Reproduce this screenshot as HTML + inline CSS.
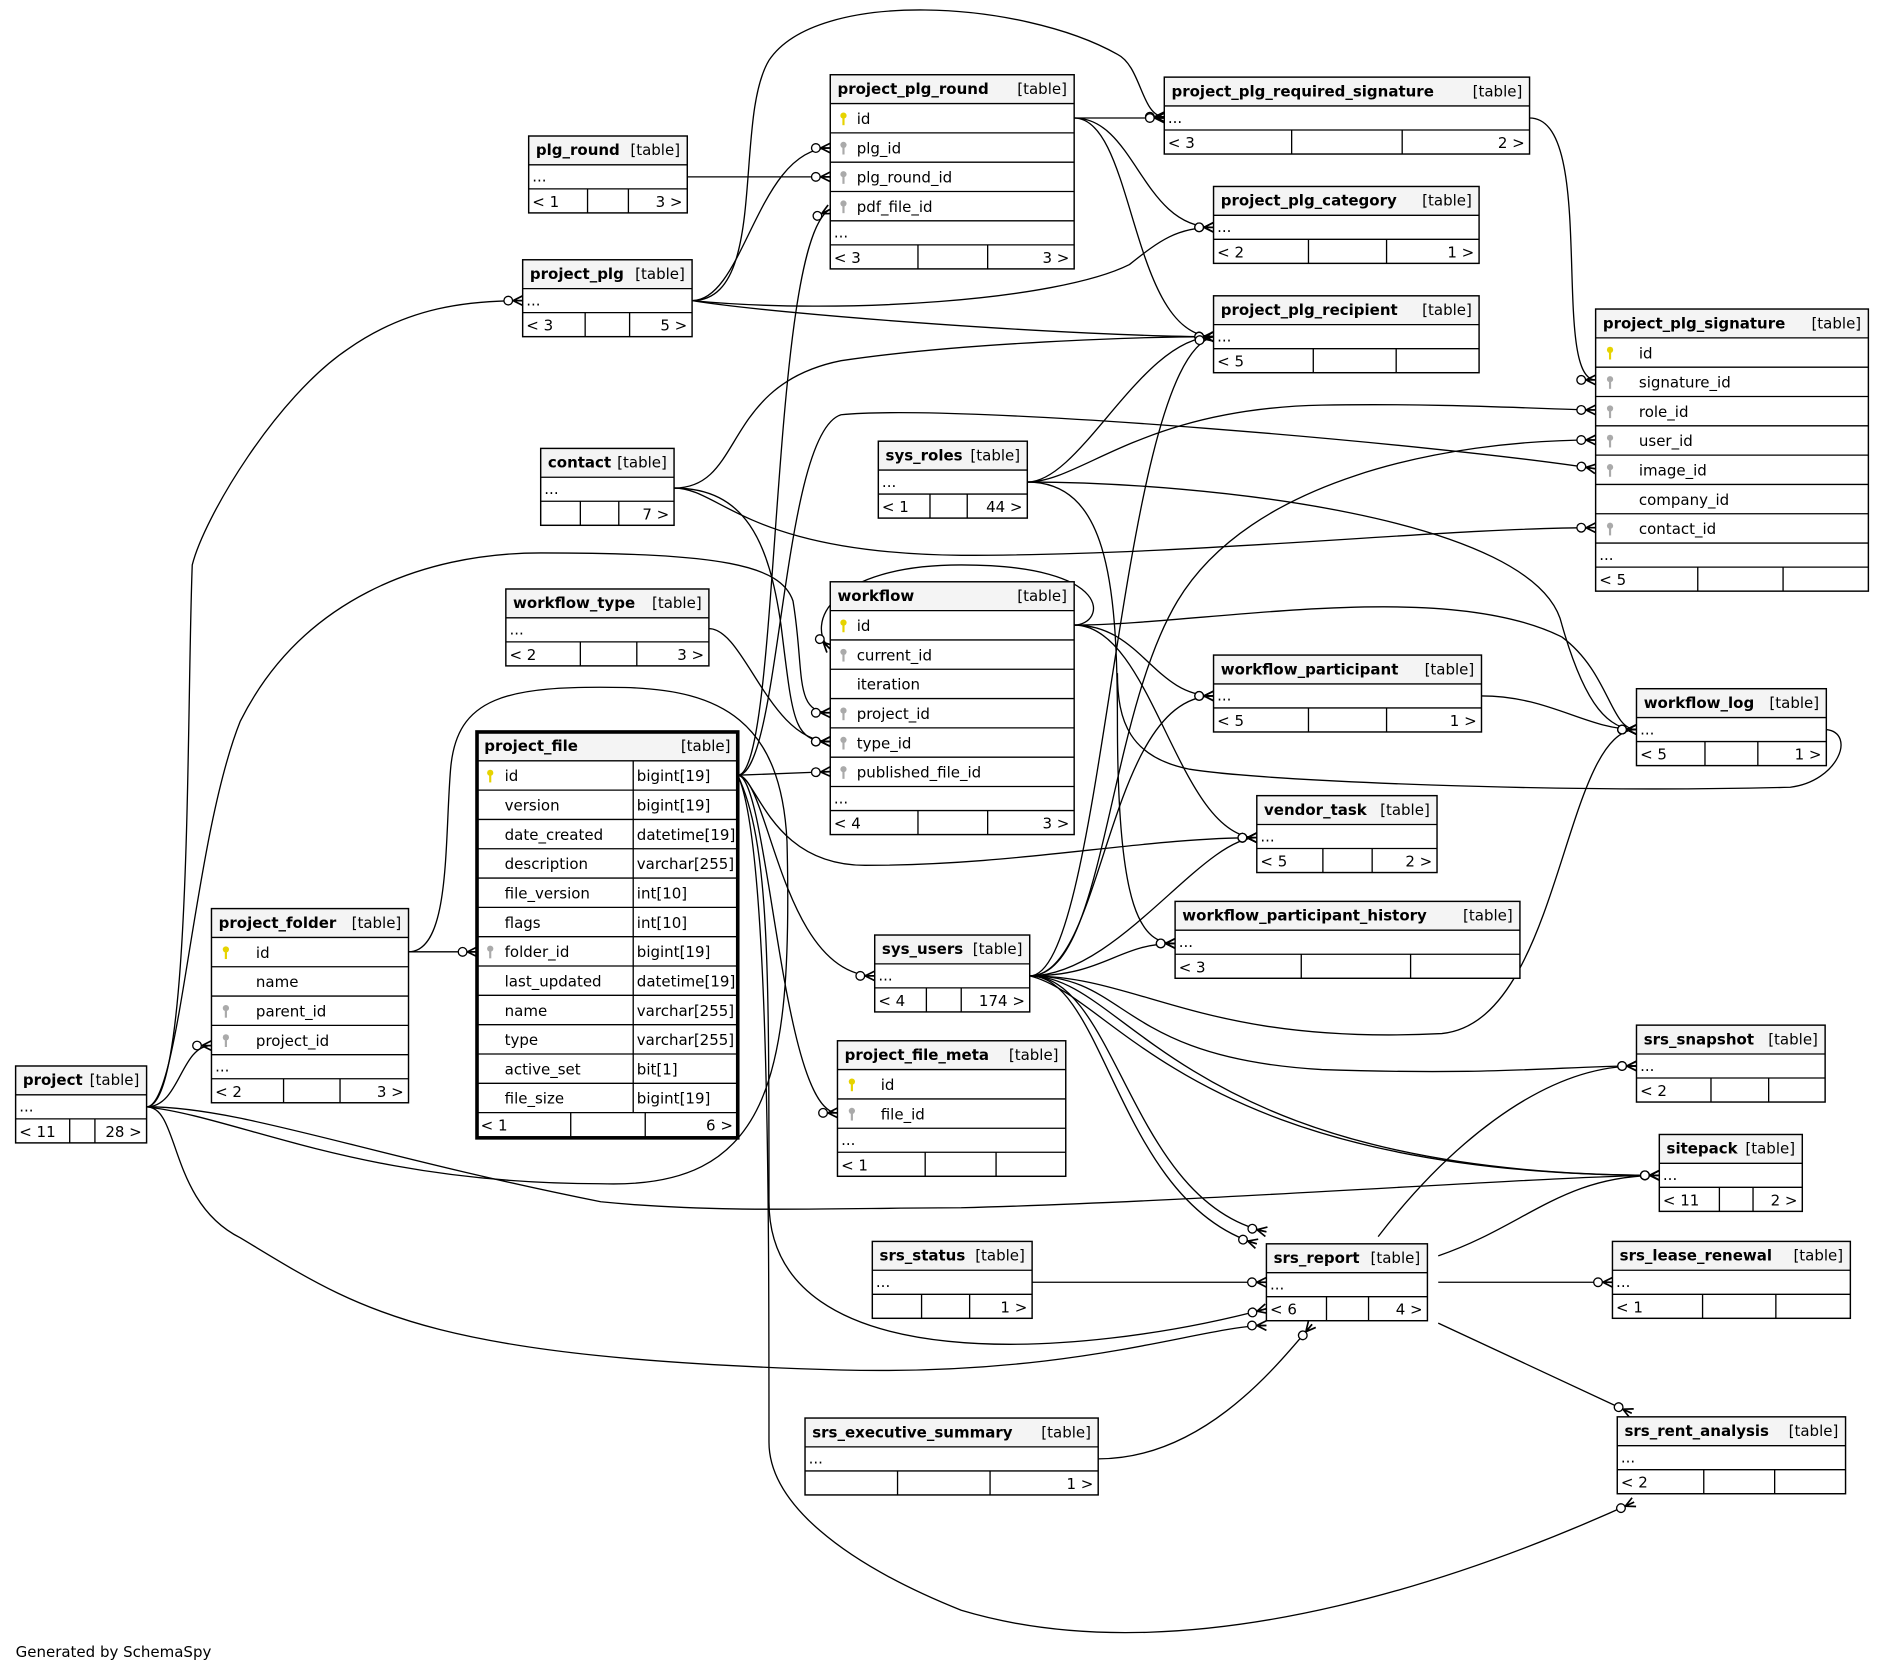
<!DOCTYPE html>
<html><head><meta charset="utf-8">
<style>
html,body{margin:0;padding:0;background:#fff;}
svg{display:block;}
text{font-family:"DejaVu Sans","Liberation Sans",sans-serif;font-size:12.5px;fill:#000;}
.b{font-weight:bold;}
.e{fill:none;stroke:#000;stroke-width:1.1;marker-end:url(#m);}
</style></head><body>
<svg id="s" width="1884" height="1673" viewBox="0 0 1568 1392" xmlns="http://www.w3.org/2000/svg">
<defs>
<marker id="m" markerUnits="userSpaceOnUse" markerWidth="30" markerHeight="20" refX="20" refY="10" orient="auto" viewBox="0 0 30 20" overflow="visible">
<path d="M12,10 L20,6 M12,10 L20,14 M12,10 L20,10" stroke="#000" stroke-width="1.4" fill="none"/>
<circle cx="8" cy="10" r="3.6" fill="#fff" stroke="#000" stroke-width="1.1"/>
</marker>
</defs>
<g id="edges">
<path class="e" d="M572,147 L691,147"/>
<path class="e" d="M576,250 C620,250 630,123 691,123"/>
<path class="e" d="M576,250 C640,250 610,100 640,50 C680,-10 850,0 930,45 C950,55 950,97 969,97"/>
<path class="e" d="M576,250 C700,262 880,250 940,220 C965,200 980,189 1010,189"/>
<path class="e" d="M576,250 C650,262 900,280 1010,280"/>
<path class="e" d="M122,921 C160,921 155,600 160,470 C170,430 230,330 290,290 C340,255 390,250 435,250"/>
<path class="e" d="M894,98 L969,98"/>
<path class="e" d="M894,98 C945,98 950,189 1010,189"/>
<path class="e" d="M894,98 C945,98 940,280 1010,280"/>
<path class="e" d="M1273,98 C1330,98 1290,316 1328,316"/>
<path class="e" d="M614,645 C650,645 640,200 691,174"/>
<path class="e" d="M561,406 C620,406 600,320 700,300 C800,285 950,280 1010,280"/>
<path class="e" d="M561,406 C600,406 620,460 800,462 C1000,462 1200,439 1328,439"/>
<path class="e" d="M561,406 C620,406 640,450 650,520 C660,600 660,617 691,617"/>
<path class="e" d="M590,523 C620,523 640,617 691,617"/>
<path class="e" d="M855,401 C900,401 950,280 1010,280"/>
<path class="e" d="M855,401 C900,401 950,340 1100,337 C1200,335 1300,341 1328,341"/>
<path class="e" d="M855,401 C1000,401 1280,430 1300,520 C1320,590 1340,607 1362,607"/>
<path class="e" d="M855,401 C920,401 930,480 930,600 C930,760 950,785 978,785"/>
<path class="e" d="M614,645 C650,645 650,360 700,345 C800,335 1200,370 1328,390"/>
<path class="e" d="M857,812 C920,812 920,600 980,500 C1040,400 1200,366 1328,366"/>
<path class="e" d="M857,812 C920,812 930,300 1010,280"/>
<path class="e" d="M857,812 C920,812 920,579 1010,579"/>
<path class="e" d="M857,812 C920,812 930,785 978,785"/>
<path class="e" d="M857,812 C930,812 1000,697 1046,697"/>
<path class="e" d="M857,812 C950,812 1000,870 1200,860 C1300,850 1300,607 1362,607"/>
<path class="e" d="M857,812 C940,812 930,880 1100,890 C1250,895 1300,887 1362,887"/>
<path class="e" d="M857,812 C940,812 980,978 1381,978"/>
<path class="e" d="M857,812 C930,830 990,978 1381,978"/>
<path class="e" d="M857,812 C930,812 940,1000 1054,1025"/>
<path class="e" d="M857,812 C920,812 930,1000 1046,1035"/>
<path class="e" d="M894,520 C950,520 960,579 1010,579"/>
<path class="e" d="M894,520 C960,520 980,697 1046,697"/>
<path class="e" d="M894,520 C1000,520 1200,480 1300,530 C1340,560 1340,607 1362,607"/>
<path class="e" d="M894,520 C920,520 930,470 800,470 C690,470 670,520 691,540"/>
<path class="e" d="M1233,579 C1290,579 1320,607 1362,607"/>
<path fill="none" stroke="#000" stroke-width="1.1" d="M1520,607 C1545,610 1530,650 1490,655 C1300,660 1050,650 990,640 C940,630 930,600 930,560"/>
<path class="e" d="M614,645 L691,642"/>
<path class="e" d="M614,645 C630,645 640,720 720,720 C850,720 950,697 1046,697"/>
<path class="e" d="M614,645 C640,645 650,812 728,812"/>
<path class="e" d="M614,645 C640,645 650,926 697,926"/>
<path class="e" d="M614,645 C640,700 640,1000 640,1200 C640,1250 700,1300 800,1340 C1000,1400 1250,1300 1360,1250"/>
<path class="e" d="M614,645 C640,700 640,800 640,1000 C640,1150 900,1130 1054,1089"/>
<path class="e" d="M340,792 L397,792"/>
<path fill="none" stroke="#000" stroke-width="1.1" d="M340,792 C375,792 370,700 375,640 C380,580 420,570 520,572 C600,574 650,600 655,700 C660,900 640,990 500,985 C300,985 200,930 122,921"/>
<path class="e" d="M122,921 C150,921 150,870 176,870"/>
<path class="e" d="M122,921 C150,921 160,700 200,600 C250,500 350,460 450,460 C600,460 650,470 660,500 C670,560 660,593 691,593"/>
<path class="e" d="M122,921 C200,921 300,960 500,1000 C600,1010 700,1005 800,1005 C1000,1000 1300,978 1381,978"/>
<path class="e" d="M122,921 C150,921 140,1000 200,1030 C300,1090 350,1130 700,1140 C900,1145 1000,1103 1054,1103"/>
<path class="e" d="M859,1067 L1054,1067"/>
<path class="e" d="M1197,1045 C1270,1020 1300,978 1381,978"/>
<path class="e" d="M1147,1029 C1200,960 1280,887 1362,887"/>
<path class="e" d="M1197,1067 L1342,1067"/>
<path class="e" d="M1197,1101 L1358,1176"/>
<path class="e" d="M914,1214 C1000,1214 1060,1140 1092,1102"/>
</g>
<g id="tables"></g>
<text x="13" y="1379">Generated by SchemaSpy</text>
</svg>
<script>
var T=[
["plg_round",440,113,572,[],["< 1","3 >"],[489,523]],
["project_plg_round",691,62,894,[["id","","p"],["plg_id","","f"],["plg_round_id","","f"],["pdf_file_id","","f"]],["< 3","3 >"],[764,822],22],
["project_plg_required_signature",969,64,1273,[],["< 3","2 >"],[1075,1167]],
["project_plg_category",1010,155,1231,[],["< 2","1 >"],[1089,1154]],
["project_plg",435,216,576,[],["< 3","5 >"],[487,524]],
["project_plg_recipient",1010,246,1231,[],["< 5",""],[1093,1162]],
["project_plg_signature",1328,257,1555,[["id","","p"],["signature_id","","f"],["role_id","","f"],["user_id","","f"],["image_id","","f"],["company_id","",""],["contact_id","","f"]],["< 5",""],[1413,1484],36],
["sys_roles",731,367,855,[],["< 1","44 >"],[774,805]],
["contact",450,373,561,[],["","7 >"],[483,515]],
["workflow_type",421,490,590,[],["< 2","3 >"],[483,530]],
["workflow",691,484,894,[["id","","p"],["current_id","","f"],["iteration","",""],["project_id","","f"],["type_id","","f"],["published_file_id","","f"]],["< 4","3 >"],[764,822],22],
["workflow_participant",1010,545,1233,[],["< 5","1 >"],[1089,1154]],
["workflow_log",1362,573,1520,[],["< 5","1 >"],[1419,1463]],
["project_file",397,609,614,[["id","bigint[19]","p"],["version","bigint[19]",""],["date_created","datetime[19]",""],["description","varchar[255]",""],["file_version","int[10]",""],["flags","int[10]",""],["folder_id","bigint[19]","f"],["last_updated","datetime[19]",""],["name","varchar[255]",""],["type","varchar[255]",""],["active_set","bit[1]",""],["file_size","bigint[19]",""]],["< 1","6 >"],[475,537],23,true,527,true],
["vendor_task",1046,662,1196,[],["< 5","2 >"],[1101,1142]],
["workflow_participant_history",978,750,1265,[],["< 3",""],[1083,1174]],
["project_folder",176,756,340,[["id","","p"],["name","",""],["parent_id","","f"],["project_id","","f"]],["< 2","3 >"],[236,283],37],
["sys_users",728,778,857,[],["< 4","174 >"],[771,800]],
["project",13,887,122,[],["< 11","28 >"],[58,79]],
["project_file_meta",697,866,887,[["id","","p"],["file_id","","f"]],["< 1",""],[770,829],36],
["srs_snapshot",1362,853,1519,[],["< 2",""],[1424,1472]],
["sitepack",1381,944,1500,[],["< 11","2 >"],[1431,1459]],
["srs_status",726,1033,859,[],["","1 >"],[767,807]],
["srs_report",1054,1035,1188,[],["< 6","4 >"],[1104,1139]],
["srs_lease_renewal",1342,1033,1540,[],["< 1",""],[1417,1478]],
["srs_executive_summary",670,1180,914,[],["","1 >"],[747,824]],
["srs_rent_analysis",1346,1179,1536,[],["< 2",""],[1418,1477]]
];
var g=document.getElementById("tables"),h="";
function ln(a,b,c,d,w){return '<line x1="'+a+'" y1="'+b+'" x2="'+c+'" y2="'+d+'" stroke="#000" stroke-width="'+(w||1.1)+'"/>';}
function tx(x,y,s,c,a){return '<text x="'+x+'" y="'+y+'"'+(c?' class="'+c+'"':'')+(a?' text-anchor="end"':'')+'>'+s+'</text>';}
T.forEach(function(t){
 var n=t[0],x=t[1],y=t[2],x2=t[3],rows=t[4],ft=t[5],sp=t[6],lx=t[7]||22,bold=t[8],cx=t[9],nodots=t[10];
 var H=24+rows.length*24.4+(nodots?0:20)+(nodots?21:20),w=x2-x;
 h+='<rect x="'+x+'" y="'+y+'" width="'+w+'" height="'+H+'" fill="#fff"/>';
 h+='<rect x="'+x+'" y="'+y+'" width="'+w+'" height="24" fill="#f4f4f4"/>';
 h+=tx(x+6,y+16,n,"b")+tx(x2-6,y+16,"[table]","",1);
 var yy=y+24;h+=ln(x,yy,x2,yy);
 rows.forEach(function(r){
  if(r[2]){var c=r[2]=="p"?"#e6d300":"#aaa",kx=x+(lx>30?12:11);
   h+='<circle cx="'+kx+'" cy="'+(yy+10)+'" r="2.6" fill="'+c+'"/>'+ln(kx,yy+10,kx,yy+18,1.8).replace('#000',c);}
  h+=tx(x+lx,yy+17,r[0]);
  if(cx){h+=tx(cx+3,yy+17,r[1]);h+=ln(cx,yy,cx,yy+24.4);}
  yy+=24.4;h+=ln(x,yy,x2,yy);
 });
 if(!nodots){h+=tx(x+3,yy+14,"...");yy+=20;h+=ln(x,yy,x2,yy);}
 h+=tx(x+3,yy+15,ft[0])+tx(x2-4,yy+15,ft[1],"",1);
 h+=ln(sp[0],yy,sp[0],yy+20)+ln(sp[1],yy,sp[1],yy+20);
 h+='<rect x="'+x+'" y="'+y+'" width="'+w+'" height="'+H+'" fill="none" stroke="#000" stroke-width="'+(bold?3:1.2)+'"/>';
});
g.innerHTML=h;
</script>
</body></html>
